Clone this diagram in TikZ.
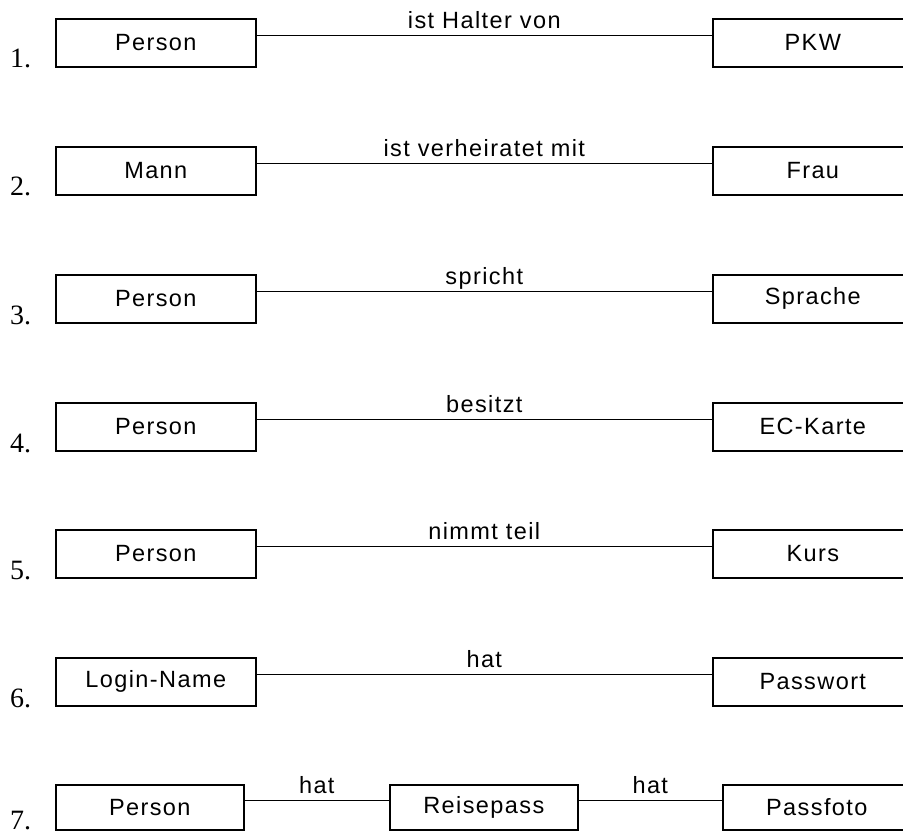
\documentclass[tikz,border=0pt]{standalone}
\usepackage{fontspec}
\setmainfont{Liberation Sans}[LetterSpace=6]
\newfontfamily\numfont{Liberation Serif}
\begin{document}
\begin{tikzpicture}[x=1pt,y=-1pt,
  entity/.style={draw, line width=1.6pt, minimum width=200pt, minimum height=48pt,
    inner sep=0pt, anchor=north west, font=\fontsize{23.5}{28}\selectfont},
  smallentity/.style={entity, minimum width=188pt, minimum height=45pt},
  rel/.style={line width=1.2pt},
  rellabel/.style={pos=.5, anchor=base, yshift=7pt, inner sep=0pt,
    font=\fontsize{23.5}{28}\selectfont},
  num/.style={anchor=base west, inner sep=0pt, font=\numfont\fontsize{28}{32}\selectfont}]
\clip (0,0) rectangle (903,832);
\fill[white] (0,0) rectangle (903,832);

% rows 1--6: two entities joined by one relationship
\foreach \i/\top/\lt/\rt/\rl in {
  1/18/Person/PKW/ist Halter von,
  2/146/Mann/Frau/ist verheiratet mit,
  3/274/Person/Sprache/spricht,
  4/402/Person/EC-Karte/besitzt,
  5/529/Person/Kurs/nimmt teil,
  6/657/Login-Name/Passwort/hat}{
  \node[entity] (l\i) at (55,\top) {\lt};
  \node[entity] (r\i) at (712,\top) {\rt};
  \node[num] (n\i) at (10,\top+50) {\i.};
  \draw[rel] ([yshift=7pt]l\i.east) -- ([yshift=7pt]r\i.west)
    node[rellabel] {\rl};
}

% row 7: chain of three entities
\node[smallentity] (p7) at (55,784) {Person};
\node[smallentity] (m7) at (389,784) {Reisepass};
\node[smallentity] (f7) at (722,784) {Passfoto};
\node[num] (n7) at (10,829) {7.};
\draw[rel] ([yshift=6.5pt]p7.east) -- ([yshift=6.5pt]m7.west) node[rellabel] {hat};
\draw[rel] ([yshift=6.5pt]m7.east) -- ([yshift=6.5pt]f7.west) node[rellabel] {hat};
\end{tikzpicture}
\end{document}
